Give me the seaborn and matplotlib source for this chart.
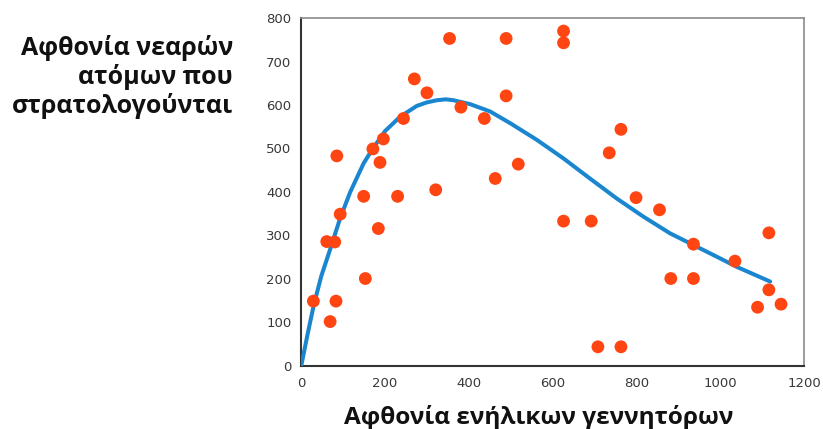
import numpy as np
import pandas as pd
import matplotlib
matplotlib.use("Agg")
import matplotlib.pyplot as plt
import seaborn as sns

sns.set_style("white")
plt.rcParams['font.family'] = ['DejaVu Sans']

# adults (x) and recruits (y)
adults = [85, 354, 489, 270, 300, 489, 381, 437, 244, 196, 171, 188, 518, 463, 321,
          149, 230, 626, 626, 763, 735, 799, 93, 184, 61, 80, 153, 29, 83, 69,
          855, 626, 692, 1116, 936, 1035, 882, 936, 1116, 1089, 1145, 708, 763]
recruits = [483, 753, 753, 660, 628, 621, 595, 569, 569, 522, 499, 468, 464, 431, 405,
            390, 390, 770, 743, 544, 490, 387, 349, 316, 286, 285, 201, 149, 149, 102,
            359, 333, 333, 306, 280, 241, 201, 201, 175, 135, 142, 44, 44]

# fitted curve
curve_x = [0, 15, 30, 48, 69, 93, 117, 149, 171, 200, 236, 276, 300, 324, 345, 363, 403,
           451, 499, 562, 626, 689, 753, 817, 880, 936, 992, 1039, 1119]
curve_y = [0, 72, 140, 207, 268, 340, 400, 466, 500, 540, 573, 598, 606, 611, 613, 611, 602,
           585, 558, 520, 477, 431, 385, 343, 305, 278, 251, 228, 194]

pts = pd.DataFrame({'adults': adults, 'recruits': recruits})
crv = pd.DataFrame({'x': curve_x, 'y': curve_y})

fig = plt.figure(figsize=(8.23, 4.29), dpi=100)
ax = fig.add_axes([0.366, 0.147, 0.611, 0.811])

sns.lineplot(data=crv, x='x', y='y', ax=ax, color='#1a86d0', linewidth=2.9,
             sort=False, zorder=3)
sns.scatterplot(data=pts, x='adults', y='recruits', ax=ax, color='#ff4511',
                s=85, edgecolor='none', zorder=4)

ax.set_xlim(0, 1200)
ax.set_ylim(0, 800)
ax.set_xticks(range(0, 1201, 200))
ax.set_yticks(range(0, 801, 100))
ax.set_xlabel('')
ax.set_ylabel('')
ax.tick_params(axis='both', direction='out', length=5, width=1.2, color='#333333',
               labelsize=9.5, labelcolor='#383838', pad=2)
ax.tick_params(axis='x', pad=3)
for side in ['left', 'bottom']:
    ax.spines[side].set_color('#333333')
    ax.spines[side].set_linewidth(1.5)
for side in ['top', 'right']:
    ax.spines[side].set_color('#8a8a8a')
    ax.spines[side].set_linewidth(1.2)

label_font = ['Open Sans', 'DejaVu Sans']
fig.text(0.654, 0.012, 'Αφθονία ενήλικων γεννητόρων', ha='center', va='baseline',
         fontsize=17.6, fontweight='bold', color='#111111', family=label_font)
fig.text(0.283, 0.918, 'Αφθονία νεαρών\nατόμων που\nστρατολογούνται', ha='right',
         va='top', multialignment='right', fontsize=18, fontweight='bold',
         color='#111111', linespacing=1.15, family=label_font)

fig.savefig('out.png', dpi=100)
